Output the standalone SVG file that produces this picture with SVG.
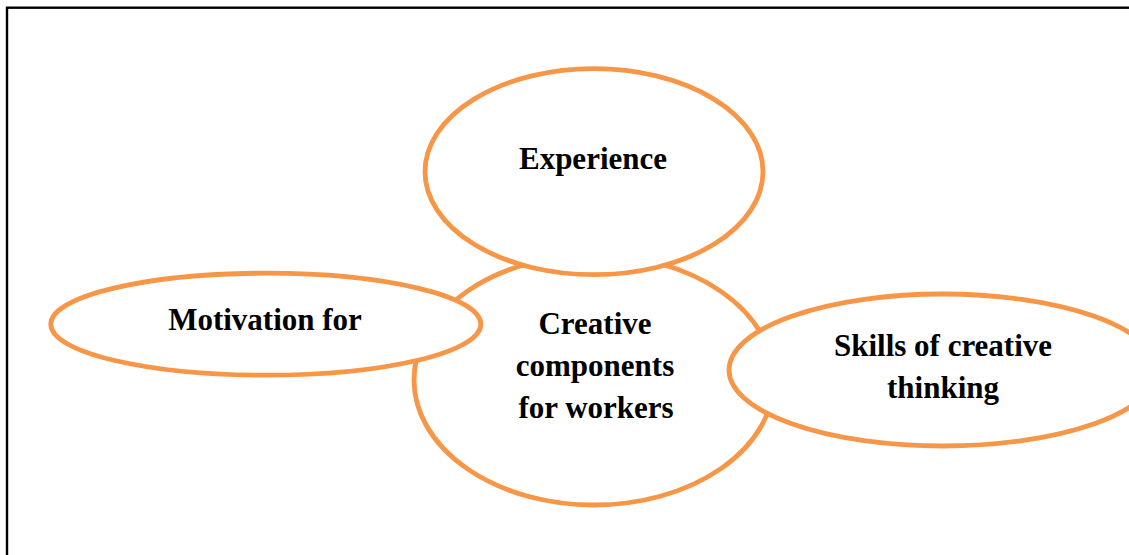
<svg xmlns="http://www.w3.org/2000/svg" width="1129" height="555" viewBox="0 0 1129 555">
  <style>
    .bubble { fill: #ffffff; stroke: #F79646; stroke-width: 4.8; }
    .label { font-family: "Liberation Serif", "Times New Roman", serif; font-weight: bold; font-size: 31px; fill: #000000; text-anchor: middle; }
    .frame { fill: none; stroke: #000000; stroke-width: 2.4; }
  </style>
  <rect class="frame" x="7" y="7.7" width="1140" height="560"/>
  <g id="connectors"/>
  <g id="node-core">
    <ellipse class="bubble" cx="594" cy="380" rx="180" ry="125"/>
    <text class="label" x="595" y="334">Creative</text>
    <text class="label" x="595" y="376">components</text>
    <text class="label" x="596" y="418">for workers</text>
  </g>
  <g id="node-experience">
    <ellipse class="bubble" cx="594" cy="171.7" rx="169" ry="103"/>
    <text class="label" x="593" y="169">Experience</text>
  </g>
  <g id="node-motivation">
    <ellipse class="bubble" cx="265.8" cy="324.2" rx="215" ry="51"/>
    <text class="label" x="265" y="330">Motivation for</text>
  </g>
  <g id="node-skills">
    <ellipse class="bubble" cx="943" cy="370" rx="214" ry="76"/>
    <text class="label" x="943" y="356">Skills of creative</text>
    <text class="label" x="943" y="398">thinking</text>
  </g>
</svg>
